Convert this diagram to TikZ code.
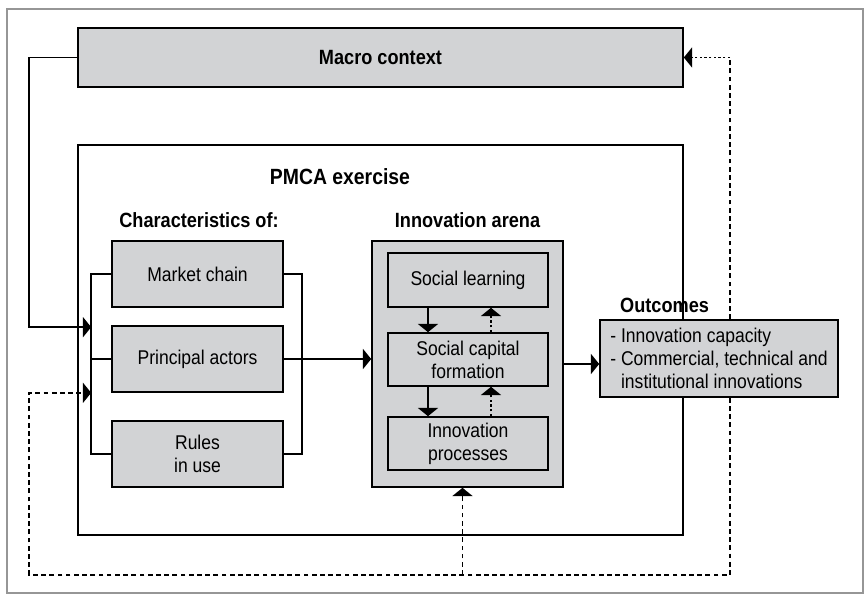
\documentclass[tikz,border=0pt]{standalone}
\usepackage{fontspec}
\setmainfont{Liberation Sans}[FakeStretch=0.88]
\usepackage{tikz}
\usetikzlibrary{arrows.meta,positioning,calc}
\definecolor{boxgray}{RGB}{210,211,213}
\definecolor{framegray}{RGB}{150,150,150}
\tikzset{
  box/.style={draw, fill=boxgray, line width=1.4pt, align=center, inner sep=0pt,
    font=\fontsize{17}{19.6}\selectfont},
  head/.style={inner sep=0pt, font=\fontsize{17.6}{20}\selectfont\bfseries},
  tip/.style={-{Triangle[length=7pt,width=17pt]}},
  link/.style={line width=1.4pt},
  fb/.style={line width=1.3pt, dash pattern=on 4pt off 3pt},
  fbdot/.style={line width=1.3pt, dash pattern=on 2pt off 2pt},
}

\begin{document}
\begin{tikzpicture}[x=0.03cm, y=-0.03cm]
            \useasboundingbox (0,0) rectangle (864,599);
            \draw[framegray, line width=0.9pt] (7,9) rectangle (863,593);
            \node[box, minimum width=18.15cm, minimum height=1.77cm, font=\fontsize{17.6}{20}\selectfont\bfseries] (macro) at (380.5,57.5) {Macro context};
            \node[draw, line width=1.4pt, fill=white, minimum width=18.15cm, minimum height=11.7cm] (pmca) at (380.5,340) {};
            \node[head, font=\fontsize{18.8}{21}\selectfont\bfseries] (pmcatitle) at (340,177) {PMCA exercise};
            \node[head] (chartitle) at (199,220) {Characteristics of:};
            \node[box, minimum width=5.13cm, minimum height=1.98cm] (market) at (197.5,274) {Market chain};
            \node[box, minimum width=5.13cm, minimum height=1.98cm] (actors) at (197.5,359) {Principal actors};
            \node[box, minimum width=5.13cm, minimum height=1.98cm] (rules) at (197.5,454) {Rules\\in use};
            \node[head] (arenatitle) at (467.5,220) {Innovation arena};
            \node[box, minimum width=5.73cm, minimum height=7.38cm] (arena) at (467.5,364) {};
            \node[box, minimum width=4.8cm, minimum height=1.62cm] (learning) at (468,280) {Social learning};
            \node[box, minimum width=4.8cm, minimum height=1.59cm] (capital) at (468,359.5) {Social capital\\formation};
            \node[box, minimum width=4.8cm, minimum height=1.59cm] (processes) at (468,443.5) {Innovation\\processes};
            \node[head, anchor=west] (outtitle) at (620,305) {Outcomes};
            \node[box, align=left, minimum width=7.14cm, minimum height=2.31cm] (outcomes) at (719,358.5)
                {- Innovation capacity\\- Commercial, technical and\\\phantom{- }institutional innovations};
            \draw[link] (market.west) -- ++(-20,0) |- (rules.west);
            \draw[link] (actors.west) -- ++(-20,0);
            \draw[link] (market.east) -- ++(18,0) |- (rules.east);
            \draw[link, tip] (actors.east) -- (actors.east -| arena.west);
            \draw[link, tip] (macro.west) -- ++(-48,0) |- ($(actors.north west)+(-20,2)$);
            \draw[link, tip] ($(learning.south)+(-40,0)$) -- ($(capital.north)+(-40,0)$);
            \draw[fbdot, tip] ($(capital.north)+(23,0)$) -- ($(learning.south)+(23,0)$);
            \draw[link, tip] ($(capital.south)+(-40,0)$) -- ($(processes.north)+(-40,0)$);
            \draw[fbdot, tip] ($(processes.north)+(23,0)$) -- ($(capital.south)+(23,0)$);
            \draw[link, tip] (arena.east) -- (arena.east -| outcomes.west);
            \coordinate (fbright) at ($(outcomes.south)+(11,177)$);
            \coordinate (fbtop) at (fbright |- macro.east);
            \draw[fb, tip] (outcomes.south -| fbright) -- (fbright) -| ($(actors.south west)+(-82,0)$) -- ($(actors.south west)+(-20,0)$);
            \draw[fb, tip] ($(arena.south)+(-5,87)$) -- ($(arena.south)+(-5,0)$);
            \draw[fb] (outcomes.north -| fbright) -- (fbtop);
            \draw[fbdot, tip] (fbtop) -- (macro.east);
        \end{tikzpicture}
\end{document}
